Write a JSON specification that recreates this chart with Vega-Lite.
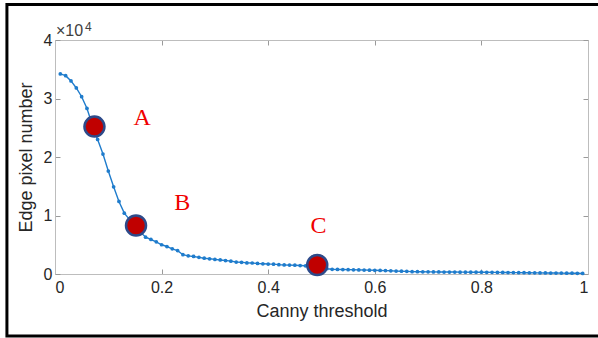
{
  "$schema": "https://vega.github.io/schema/vega-lite/v6.json",
  "autosize": "none",
  "width": 533,
  "height": 234,
  "padding": {"left": 55, "top": 40, "right": 10, "bottom": 64},
  "background": "white",
  "config": {
    "view": {"stroke": "#bdbdbd", "strokeWidth": 1},
    "axis": {
      "labelFont": "Liberation Sans",
      "titleFont": "Liberation Sans",
      "labelFontSize": 16,
      "titleFontSize": 18,
      "labelColor": "#262626",
      "titleColor": "#262626",
      "titleFontWeight": "normal",
      "domainColor": "#bdbdbd",
      "tickColor": "#9a9a9a",
      "grid": false
    }
  },
  "datasets": {
    "curve": [
      {"t": 0.01, "n": 34200}, {"t": 0.02, "n": 33900}, {"t": 0.03, "n": 33000}, {"t": 0.04, "n": 31800},
      {"t": 0.05, "n": 30300}, {"t": 0.06, "n": 28300}, {"t": 0.07, "n": 25500}, {"t": 0.08, "n": 23000},
      {"t": 0.09, "n": 20500}, {"t": 0.10, "n": 17600}, {"t": 0.11, "n": 14900}, {"t": 0.12, "n": 12400},
      {"t": 0.13, "n": 10400}, {"t": 0.14, "n": 9300}, {"t": 0.15, "n": 8300}, {"t": 0.16, "n": 7200},
      {"t": 0.17, "n": 6300}, {"t": 0.18, "n": 5900}, {"t": 0.19, "n": 5500}, {"t": 0.20, "n": 5000},
      {"t": 0.21, "n": 4700}, {"t": 0.22, "n": 4300}, {"t": 0.23, "n": 4000}, {"t": 0.24, "n": 3300},
      {"t": 0.25, "n": 3100}, {"t": 0.26, "n": 3000}, {"t": 0.27, "n": 2850}, {"t": 0.28, "n": 2700},
      {"t": 0.29, "n": 2600}, {"t": 0.30, "n": 2500}, {"t": 0.31, "n": 2400}, {"t": 0.32, "n": 2300},
      {"t": 0.33, "n": 2200}, {"t": 0.34, "n": 2050}, {"t": 0.35, "n": 2000}, {"t": 0.36, "n": 1900},
      {"t": 0.37, "n": 1880}, {"t": 0.38, "n": 1800}, {"t": 0.39, "n": 1750}, {"t": 0.40, "n": 1700},
      {"t": 0.41, "n": 1680}, {"t": 0.42, "n": 1600}, {"t": 0.43, "n": 1550}, {"t": 0.44, "n": 1520},
      {"t": 0.45, "n": 1500}, {"t": 0.46, "n": 1450}, {"t": 0.47, "n": 1400}, {"t": 0.48, "n": 1350},
      {"t": 0.49, "n": 1300}, {"t": 0.50, "n": 1100}, {"t": 0.51, "n": 900}, {"t": 0.52, "n": 800},
      {"t": 0.53, "n": 780}, {"t": 0.54, "n": 760}, {"t": 0.55, "n": 740}, {"t": 0.56, "n": 720},
      {"t": 0.57, "n": 700}, {"t": 0.58, "n": 680}, {"t": 0.59, "n": 660}, {"t": 0.60, "n": 640},
      {"t": 0.61, "n": 600}, {"t": 0.62, "n": 580}, {"t": 0.63, "n": 550}, {"t": 0.64, "n": 500},
      {"t": 0.65, "n": 480}, {"t": 0.66, "n": 450}, {"t": 0.67, "n": 400}, {"t": 0.68, "n": 390},
      {"t": 0.69, "n": 380}, {"t": 0.70, "n": 370}, {"t": 0.71, "n": 360}, {"t": 0.72, "n": 350},
      {"t": 0.73, "n": 340}, {"t": 0.74, "n": 335}, {"t": 0.75, "n": 330}, {"t": 0.76, "n": 320},
      {"t": 0.77, "n": 315}, {"t": 0.78, "n": 310}, {"t": 0.79, "n": 305}, {"t": 0.80, "n": 300},
      {"t": 0.81, "n": 290}, {"t": 0.82, "n": 280}, {"t": 0.83, "n": 270}, {"t": 0.84, "n": 260},
      {"t": 0.85, "n": 250}, {"t": 0.86, "n": 240}, {"t": 0.87, "n": 230}, {"t": 0.88, "n": 220},
      {"t": 0.89, "n": 210}, {"t": 0.90, "n": 200}, {"t": 0.91, "n": 190}, {"t": 0.92, "n": 180},
      {"t": 0.93, "n": 170}, {"t": 0.94, "n": 160}, {"t": 0.95, "n": 150}, {"t": 0.96, "n": 140},
      {"t": 0.97, "n": 130}, {"t": 0.98, "n": 120}, {"t": 0.99, "n": 100}
    ],
    "marks": [
      {"t": 0.074, "n": 25200, "label": "A", "lt": 0.1635, "ln": 25470},
      {"t": 0.152, "n": 8300, "label": "B", "lt": 0.2387, "ln": 10940},
      {"t": 0.492, "n": 1540, "label": "C", "lt": 0.4944, "ln": 6957}
    ],
    "one": [{"k": 1}]
  },
  "resolve": {"axis": {"x": "independent", "y": "independent"}},
  "layer": [
    {
      "data": {"name": "curve"},
      "mark": {"type": "line", "color": "#1f7ccc", "strokeWidth": 1.4},
      "encoding": {
        "x": {"field": "t", "type": "quantitative",
              "scale": {"domain": [0, 1], "nice": false},
              "axis": {"orient": "bottom", "values": [0, 0.2, 0.4, 0.6, 0.8, 1], "format": "~g",
                       "tickSize": -5, "labelPadding": 10, "title": "Canny threshold", "titlePadding": 7}},
        "y": {"field": "n", "type": "quantitative",
              "scale": {"domain": [0, 40000], "nice": false},
              "axis": {"orient": "left", "values": [0, 10000, 20000, 30000, 40000],
                       "labelExpr": "datum.value / 10000", "tickSize": -5, "labelPadding": 8,
                       "title": "Edge pixel number", "titlePadding": 8}}
      }
    },
    {
      "data": {"name": "curve"},
      "mark": {"type": "circle", "color": "#1f7ccc", "opacity": 1, "size": 14},
      "encoding": {
        "x": {"field": "t", "type": "quantitative",
              "axis": {"orient": "top", "values": [0, 0.2, 0.4, 0.6, 0.8, 1], "labels": false,
                       "tickSize": -5, "title": null}},
        "y": {"field": "n", "type": "quantitative",
              "axis": {"orient": "right", "values": [0, 10000, 20000, 30000, 40000], "labels": false,
                       "tickSize": -5, "title": null}}
      }
    },
    {
      "data": {"name": "marks"},
      "mark": {"type": "point", "filled": true, "shape": "circle", "size": 400,
               "fill": "#c00000", "stroke": "#2d4a8a", "strokeWidth": 2.5, "opacity": 1},
      "encoding": {
        "x": {"field": "t", "type": "quantitative", "axis": null},
        "y": {"field": "n", "type": "quantitative", "axis": null}
      }
    },
    {
      "data": {"name": "marks"},
      "mark": {"type": "text", "font": "Liberation Serif", "fontSize": 24, "color": "#f00000",
               "align": "center", "baseline": "alphabetic"},
      "encoding": {
        "x": {"field": "lt", "type": "quantitative", "axis": null},
        "y": {"field": "ln", "type": "quantitative", "axis": null},
        "text": {"field": "label"}
      }
    },
    {
      "data": {"name": "one"},
      "mark": {"type": "text", "font": "Liberation Sans", "fontSize": 16, "color": "#404040",
               "align": "left", "baseline": "alphabetic", "dx": 1, "dy": -4},
      "encoding": {
        "x": {"datum": 0, "type": "quantitative", "axis": null},
        "y": {"datum": 40000, "type": "quantitative", "axis": null},
        "text": {"value": "×10"}
      }
    },
    {
      "data": {"name": "one"},
      "mark": {"type": "text", "font": "Liberation Sans", "fontSize": 12, "color": "#404040",
               "align": "left", "baseline": "alphabetic", "dx": 30, "dy": -9},
      "encoding": {
        "x": {"datum": 0, "type": "quantitative", "axis": null},
        "y": {"datum": 40000, "type": "quantitative", "axis": null},
        "text": {"value": "4"}
      }
    },
    {
      "data": {"name": "one"},
      "mark": {"type": "rect", "fill": null, "fillOpacity": 0, "stroke": "black", "strokeWidth": 3},
      "encoding": {
        "x": {"datum": -0.0902, "type": "quantitative", "axis": null},
        "x2": {"datum": 1.03},
        "y": {"datum": 46068, "type": "quantitative", "axis": null},
        "y2": {"datum": -10598}
      }
    }
  ]
}
